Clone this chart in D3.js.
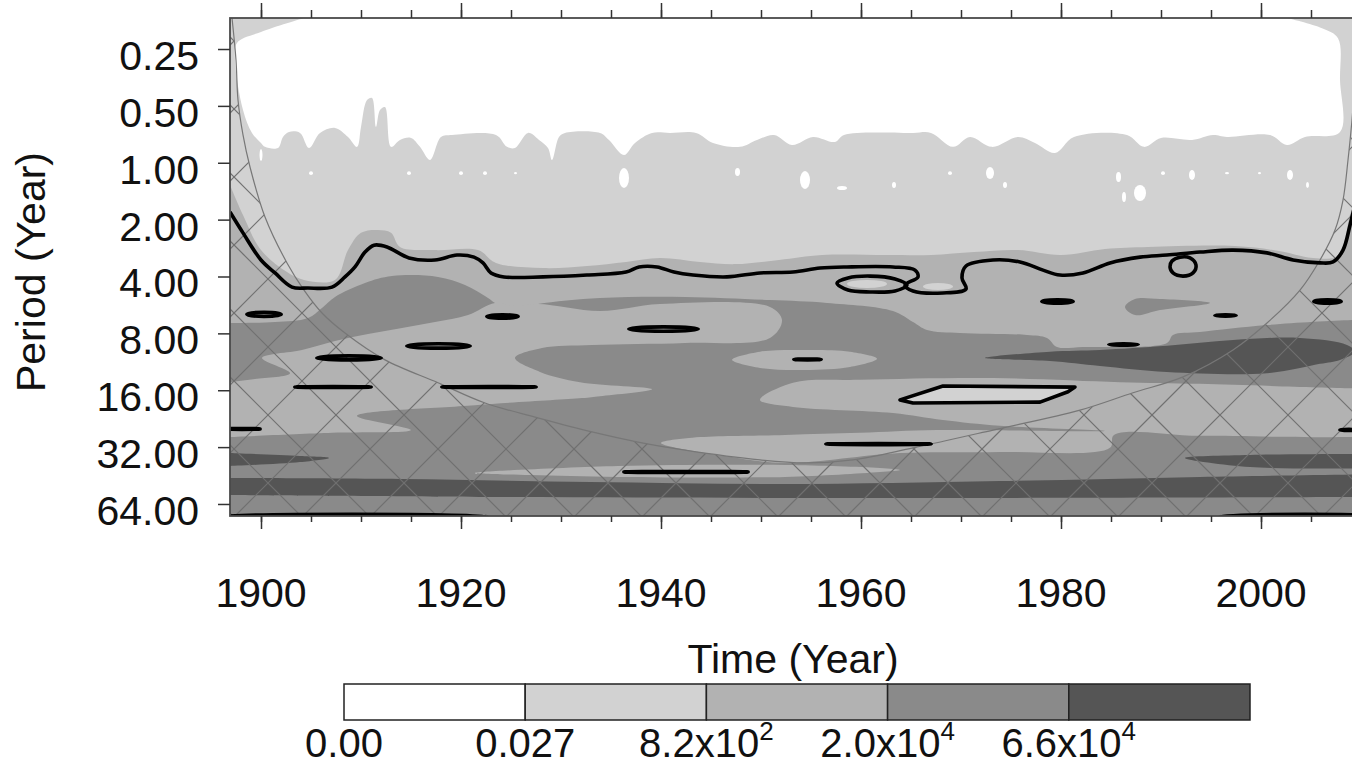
<!DOCTYPE html>
<html>
<head>
<meta charset="utf-8">
<script src="https://cdn.jsdelivr.net/npm/d3@7"></script>
<style>
  body { margin: 0; background: #fff; }
  svg { display: block; font-family: "Liberation Sans", Arial, Helvetica, sans-serif; }
</style>
</head>
<body>
<svg id="chart" width="1352" height="767"></svg>
<script>
// axis limits and labels
var yearRange = [1896.9, 2011.9];
var periodRange = [0.1713, 74.1];
var periodTicks = [0.25, 0.5, 1, 2, 4, 8, 16, 32, 64];
var yearLabels = [1900, 1920, 1940, 1960, 1980, 2000];
var levelColors = ["#ffffff", "#d2d2d2", "#b2b2b2", "#8a8a8a", "#555555"];
var levelLabels = [["0.00", ""], ["0.027", ""], ["8.2x10", "2"], ["2.0x10", "4"], ["6.6x10", "4"]];

// filled power zones, [year, period]
var lightZone = [[1896.9,0.1713],[2011.9,0.1713],[2011.9,1.234],[2009.1,1.78],[2007.9,3.08],[2005.2,3.19],[2001.8,2.93],[1997.4,2.76],[1988.7,2.79],[1984.4,2.86],[1980.0,3.08],[1975.7,2.90],[1971.3,2.97],[1967.0,3.08],[1962.6,3.08],[1956.1,3.08],[1951.8,3.27],[1947.4,3.44],[1943.9,3.35],[1939.9,3.19],[1936.5,3.35],[1932.6,3.52],[1928.2,3.61],[1923.5,3.39],[1921.7,2.90],[1917.4,2.90],[1913.9,2.79],[1913.0,2.35],[1911.7,2.27],[1910.0,2.35],[1908.7,2.90],[1907.4,4.17],[1904.3,4.17],[1902.6,3.79],[1900.0,2.90],[1898.2,1.89],[1896.9,1.31]];

var whiteZone = [[1904.3,0.1713],[2002.6,0.1713],[2006.1,0.194],[2007.7,0.219],[2007.9,0.365],[2007.9,0.687],
  [2004.4,0.730],[2002.6,0.805],[2000.9,0.713],[1996.6,0.730],[1995.2,0.713],[1993.1,0.757],[1990.0,0.739],[1988.3,0.824],[1986.6,0.713],[1981.3,0.730],[1979.4,0.887],[1977.4,0.785],[1975.7,0.730],[1973.1,0.824],[1970.9,0.730],[1969.2,0.824],[1967.0,0.695],[1965.2,0.695],[1958.3,0.713],[1957.4,0.776],[1955.2,0.730],[1953.1,0.805],[1951.3,0.713],[1949.6,0.757],[1947.9,0.824],[1945.2,0.785],[1943.5,0.695],[1940.9,0.695],[1939.1,0.695],[1937.4,0.785],[1936.3,0.909],[1934.8,0.757],[1933.9,0.695],[1930.4,0.695],[1929.8,0.730],[1929.1,0.967],[1928.7,0.835],[1927.8,0.757],[1926.7,0.695],[1925.4,0.835],[1924.6,0.824],[1923.5,0.713],[1919.1,0.713],[1918.0,0.730],[1916.9,0.967],[1915.9,0.824],[1915.0,0.739],[1913.9,0.757],[1913.0,0.824],[1912.4,0.507],[1911.9,0.525],[1911.5,0.646],[1911.1,0.454],[1910.6,0.466],[1910.0,0.646],[1909.6,0.824],[1908.7,0.730],[1907.4,0.654],[1905.9,0.695],[1904.8,0.835],[1903.9,0.695],[1902.8,0.687],[1902.2,0.730],[1901.7,0.835],[1900.4,0.824],[1900.0,0.785],
  [1899.1,0.695],[1898.2,0.525],[1897.4,0.286],[1897.6,0.232],[1900.0,0.203]];

// [yearStart, yearEnd, periodLow, periodHigh]
var whiteSpecks = [[1904.8,1905.2,1.11,1.16],[1914.6,1915.0,1.11,1.16],[1919.8,1920.2,1.11,1.16],[1922.2,1922.6,1.11,1.16],[1925.3,1925.6,1.12,1.15],[1935.8,1936.8,1.066,1.36],[1899.85,1900.15,0.845,0.978],[1947.4,1947.9,1.066,1.175],[1953.9,1954.9,1.106,1.377],[1957.6,1958.6,1.327,1.394],[1963.1,1963.5,1.265,1.36],[1968.7,1969.1,1.11,1.16],[1972.5,1973.3,1.053,1.219],[1974.2,1974.6,1.265,1.36],[1985.5,1986.0,1.119,1.265],[1986.1,1986.5,1.428,1.613],[1987.3,1988.5,1.311,1.594],[1990.0,1990.4,1.11,1.16],[1992.8,1993.4,1.092,1.234],[1996.4,1996.8,1.12,1.15],[1999.7,2000.0,1.12,1.15],[2002.6,2003.2,1.092,1.234],[2004.5,2004.8,1.265,1.36]];

var midBand = [[1896.9,7.05],[1901.4,6.97],[1904.7,6.63],[1906.1,5.87],[1907.4,5.13],[1910.4,4.33],[1913.1,3.98],[1917.7,4.02],[1920.4,4.44],[1922.7,5.20],[1923.4,5.52],[1925.4,5.94],[1927.7,5.59],[1933.9,5.20],[1942.4,5.13],[1950.9,5.33],[1956.6,5.52],[1963.2,6.09],[1965.2,6.97],[1966.6,7.68],[1969.9,7.97],[1976.6,8.16],[1978.6,8.46],[1979.6,9.44],[1982.2,9.44],[1990.6,8.99],[1991.2,8.16],[1993.9,7.87],[2000.6,7.23],[2009.1,6.80],[2011.9,6.80],[2011.9,74.1],[1896.9,74.1]];
var midWedge = [[1986.4,5.80],[1987.4,5.26],[1989.9,5.26],[1994.9,5.52],[1989.9,6.02],[1987.4,6.40]];

var lowLeft = [[1896.9,14.5],[1899.4,13.95],[1902.9,13.0],[1900.1,10.8],[1904.1,9.79],[1907.4,8.78],[1910.7,8.06],[1914.1,7.49],[1917.4,6.97],[1920.7,6.40],[1923.4,5.52],[1925.4,5.73],[1927.7,5.59],[1933.9,6.09],[1939.9,5.59],[1950.9,5.80],[1952.1,6.80],[1950.9,8.46],[1942.4,8.99],[1933.1,9.21],[1928.1,9.56],[1925.4,10.8],[1927.9,12.8],[1931.9,14.5],[1939.1,15.8],[1933.9,17.2],[1932.1,17.6],[1921.4,19.2],[1909.6,21.9],[1915.0,26.0],[1907.1,26.9],[1896.9,28.3]];
var lowBlob = [[1947.1,11.05],[1949.9,10.0],[1954.4,9.79],[1958.9,10.0],[1961.6,10.9],[1958.9,12.05],[1954.4,12.5],[1949.9,12.2]];
var lowRight = [[2011.9,15.6],[2011.9,27.9],[2009.1,28.3],[1993.9,27.9],[1985.3,27.6],[1984.9,32.3],[1973.9,34.0],[1963.9,34.4],[1952.4,38.8],[1946.4,35.7],[1940.0,30.4],[1942.8,28.6],[1952.4,27.6],[1959.9,26.9],[1967.6,26.0],[1984.4,26.3],[1973.9,24.7],[1968.2,23.0],[1963.2,21.1],[1953.2,19.6],[1949.9,18.0],[1953.2,14.6],[1959.9,14.1],[1973.2,13.8],[1985.9,14.5],[1993.9,14.8],[2009.1,15.6]];
var lowStreak = [[1921.4,43.9],[1935.7,40.3],[1952.4,39.8],[1961.9,41.3],[1963.9,42.3],[1961.9,43.3],[1952.4,46.0],[1935.7,46.0],[1926.9,45.0]];

var darkBand = [[1896.9,46.6],[1913.9,47.2],[1932.9,49.0],[1952.4,50.2],[1973.9,48.4],[1993.9,46.0],[2011.9,44.4],[2011.9,58.8],[1973.9,59.5],[1952.4,59.5],[1923.9,58.8],[1896.9,57.4]];
var darkLeft = [[1896.9,34.4],[1903.9,35.7],[1906.8,36.5],[1903.9,38.4],[1896.9,40.3]];
var darkRight = [[2011.9,41.3],[1998.9,40.8],[1992.4,36.5],[1998.9,35.2],[2011.9,34.8]];
var darkUpper = [[1972.4,10.8],[1978.9,10.0],[1983.9,9.79],[1990.6,9.3],[1997.2,8.67],[2003.9,8.46],[2008.6,9.21],[2009.4,10.0],[2007.9,11.06],[2005.9,11.6],[2000.6,13.0],[1990.6,12.8],[1983.9,11.9],[1978.9,11.2]];
var lightIslands = [[1958.6,1962.6,4.17,4.60],[1966.2,1969.2,4.33,4.72]];

// cone of influence
var coi = [[1897.1,0.1713],[1897.5,0.286],[1897.7,0.465],[1898.2,0.712],[1898.9,1.053],[1900.4,1.937],[1902.6,3.39],[1904.3,4.72],[1906.1,6.24],[1908.4,7.97],[1912.4,11.05],[1917.7,14.6],[1922.4,18.7],[1927.7,22.4],[1933.1,26.6],[1937.7,30.1],[1942.4,33.2],[1949.9,37.4],[1954.4,38.8],[1959.2,37.4],[1965.2,32.3],[1973.2,26.0],[1981.9,20.4],[1987.2,16.5],[1992.2,13.6],[1997.2,9.79],[2000.6,7.05],[2003.9,4.72],[2005.9,3.27],[2007.4,2.27],[2008.2,1.575],[2008.7,0.967],[2009.1,0.594],[2009.5,0.323],[2009.9,0.1713]];

// significance contours
var sigMain = [[1896.9,1.822],[1898.2,2.35],[1900.0,3.27],[1901.4,3.83],[1903.1,4.55],[1904.7,4.60],[1907.1,4.55],[1908.4,4.02],[1909.4,3.56],[1910.4,2.97],[1911.3,2.73],[1912.6,2.79],[1914.8,3.19],[1917.4,3.27],[1919.6,3.08],[1921.3,3.16],[1922.2,3.39],[1923.0,3.83],[1924.3,4.02],[1928.2,4.02],[1932.6,3.93],[1936.5,3.79],[1937.8,3.56],[1939.6,3.56],[1941.3,3.79],[1943.2,3.93],[1946.6,4.02],[1949.9,3.83],[1953.2,3.79],[1955.9,3.61],[1958.6,3.56],[1963.2,3.56],[1965.4,3.70],[1965.7,4.02],[1964.4,4.44],[1965.2,4.77],[1968.2,4.89],[1970.5,4.66],[1970.1,4.07],[1970.5,3.52],[1973.2,3.27],[1975.9,3.35],[1978.2,3.70],[1979.9,3.93],[1982.2,3.83],[1984.9,3.39],[1987.9,3.16],[1990.6,3.08],[1993.9,2.97],[1997.2,2.90],[2000.6,3.00],[2003.2,3.27],[2005.9,3.39],[2007.2,3.35],[2008.2,2.90],[2008.9,2.14],[2009.5,1.575]];
var sigLoopA = [[1957.6,4.33],[1958.7,4.07],[1960.9,3.98],[1963.4,4.12],[1964.6,4.44],[1963.4,4.77],[1960.9,4.83],[1958.7,4.72]];
var sigLoopB = [[1990.9,3.56],[1991.1,3.31],[1991.9,3.16],[1992.9,3.19],[1993.5,3.48],[1993.2,3.83],[1992.2,3.98],[1991.2,3.83]];
var sigBox = [[1963.9,18.0],[1968.2,15.2],[1981.4,15.4],[1980.7,16.3],[1977.9,18.5],[1965.2,18.7]];
var sigRings = [[1898.4,1902.2,6.05,6.65],[1922.4,1925.9,6.24,6.80],[1936.6,1943.9,7.23,7.97],[1914.4,1921.1,8.88,9.79],[1905.4,1912.2,10.3,11.3],[1903.2,1911.2,15.0,15.8],[1917.9,1927.7,15.0,15.8],[1896.1,1900.1,25.0,26.3],[1936.1,1948.9,42.3,44.4],[1956.3,1967.2,30.1,31.6],[1953.1,1956.2,10.7,11.3],[1977.9,1981.4,5.20,5.66],[1995.2,1997.7,6.24,6.63],[1984.6,1987.9,8.88,9.44],[2005.1,2008.2,5.20,5.66],[2007.7,2009.9,25.3,26.6],[1895.5,1922.8,71.0,78.0],[1995.7,2013.0,71.0,78.0]];

var svg = d3.select("#chart");
var plot = {left: 230, right: 1380, top: 18, bottom: 516};

var x = d3.scaleLinear().domain(yearRange).range([plot.left, plot.right]);
var y = d3.scaleLog().base(2).domain(periodRange).range([plot.top, plot.bottom]);

var smooth = d3.line().curve(d3.curveCatmullRom.alpha(0.5));
var smoothClosed = d3.line().curve(d3.curveCatmullRomClosed.alpha(0.5));

function px(p) { return [x(p[0]), y(p[1])]; }

function onEdge(p) {
   return p[0] <= yearRange[0] + 0.01 || p[0] >= yearRange[1] - 0.01 ||
      p[1] <= periodRange[0] * 1.001 || p[1] >= periodRange[1] * 0.999;
}

// zones touching the frame run straight along it, curved elsewhere
function zonePath(pts) {
   if (!pts.some(onEdge)) return smoothClosed(pts.map(px));
   var all = pts.concat([pts[0]]);
   var runs = [[all[0]]];
   for (var i = 1; i < all.length; i++) {
      if (onEdge(all[i - 1]) && onEdge(all[i])) runs.push([all[i]]);
      else runs[runs.length - 1].push(all[i]);
   }
   return runs.map(function(r, i) {
      var d = r.length > 1 ? smooth(r.map(px)) : "M" + px(r[0]).join(",");
      return i ? d.replace(/^M/, "L") : d;
   }).join("") + "Z";
}

function boxEllipse(sel, b, sw) {
   var x0 = x(b[0]), x1 = x(b[1]), y0 = y(b[2]), y1 = y(b[3]);
   sel.append("ellipse")
      .attr("cx", (x0 + x1) / 2).attr("cy", (y0 + y1) / 2)
      .attr("rx", Math.max(0.5, (x1 - x0 - sw) / 2))
      .attr("ry", Math.max(0.5, (y1 - y0 - sw) / 2));
}

var defs = svg.append("defs");
defs.append("clipPath").attr("id", "plotClip").append("rect")
   .attr("x", plot.left).attr("y", plot.top)
   .attr("width", plot.right - plot.left).attr("height", plot.bottom - plot.top);

var coiLine = smooth(coi.map(px));
defs.append("clipPath").attr("id", "coiClip").append("path")
   .attr("d", "M" + plot.left + "," + plot.top + coiLine.replace(/^M/, "L") +
      "L" + plot.right + "," + plot.top + "L" + plot.right + "," + plot.bottom +
      "L" + plot.left + "," + plot.bottom + "Z");

var g = svg.append("g").attr("clip-path", "url(#plotClip)");

g.append("rect")
   .attr("x", plot.left).attr("y", plot.top)
   .attr("width", plot.right - plot.left).attr("height", plot.bottom - plot.top)
   .attr("fill", levelColors[2]);

function zone(pts, color) {
   g.append("path").attr("d", zonePath(pts)).attr("fill", color);
}

zone(lightZone, levelColors[1]);
zone(whiteZone, levelColors[0]);
var specks = g.append("g").attr("fill", levelColors[0]);
whiteSpecks.forEach(function(b) { boxEllipse(specks, b, 0); });

zone(midBand, levelColors[3]);
zone(midWedge, levelColors[3]);

zone(lowLeft, levelColors[2]);
zone(lowBlob, levelColors[2]);
zone(lowRight, levelColors[2]);
zone(lowStreak, levelColors[2]);

zone(darkBand, levelColors[4]);
zone(darkLeft, levelColors[4]);
zone(darkRight, levelColors[4]);
zone(darkUpper, levelColors[4]);

g.append("path").attr("d", d3.line()(sigBox.map(px)) + "Z").attr("fill", levelColors[1]);
var isl = g.append("g").attr("fill", levelColors[1]);
lightIslands.forEach(function(b) { boxEllipse(isl, b, 0); });

// hatching outside the cone of influence
var hatch = g.append("g").attr("clip-path", "url(#coiClip)")
   .attr("stroke", "#707070").attr("stroke-width", 1.2);
d3.range(-19, 6).forEach(function(k) {
   var c = 68 * k - 57;
   hatch.append("line").attr("x1", plot.left).attr("y1", plot.left + c)
      .attr("x2", plot.right).attr("y2", plot.right + c);
});
d3.range(3, 27).forEach(function(m) {
   var s = 68 * m + 71;
   hatch.append("line").attr("x1", plot.left).attr("y1", s - plot.left)
      .attr("x2", plot.right).attr("y2", s - plot.right);
});

g.append("path").attr("d", coiLine).attr("fill", "none")
   .attr("stroke", "#777").attr("stroke-width", 1.2);

var sig = g.append("g").attr("fill", "none").attr("stroke", "#000")
   .attr("stroke-width", 3.6).attr("stroke-linejoin", "round");
sig.append("path").attr("d", smooth(sigMain.map(px)));
sig.append("path").attr("d", smoothClosed(sigLoopA.map(px)));
sig.append("path").attr("d", smoothClosed(sigLoopB.map(px)));
sig.append("path").attr("d", d3.line()(sigBox.map(px)) + "Z");
sigRings.forEach(function(b) { boxEllipse(sig, b, 3.6); });

// frame
svg.append("rect")
   .attr("x", plot.left).attr("y", plot.top)
   .attr("width", plot.right - plot.left).attr("height", plot.bottom - plot.top)
   .attr("fill", "none").attr("stroke", "#4a4a4a").attr("stroke-width", 1.8);

function ticks(axis, transform) {
   var a = svg.append("g").attr("transform", transform).attr("color", "#333").call(axis);
   a.select(".domain").remove();
   a.selectAll(".tick line").attr("stroke-width", 1.5);
}
var minorYears = d3.range(1900, 2011, 5);
var majorYears = d3.range(1900, 2011, 20);
ticks(d3.axisBottom(x).tickValues(minorYears).tickSize(6).tickFormat(""), "translate(0," + plot.bottom + ")");
ticks(d3.axisBottom(x).tickValues(majorYears).tickSize(13).tickFormat(""), "translate(0," + plot.bottom + ")");
ticks(d3.axisTop(x).tickValues(minorYears).tickSize(8).tickFormat(""), "translate(0," + plot.top + ")");
ticks(d3.axisTop(x).tickValues(majorYears).tickSize(15).tickFormat(""), "translate(0," + plot.top + ")");
ticks(d3.axisLeft(y).tickValues(periodTicks).tickSize(12).tickFormat(""), "translate(" + plot.left + ",0)");

var fmt = d3.format(".2f");
svg.append("g").selectAll("text").data(periodTicks).enter().append("text")
   .attr("x", 199).attr("y", function(d) { return y(d) + 21; })
   .attr("text-anchor", "end").attr("font-size", 41).attr("fill", "#111")
   .text(function(d) { return fmt(d); });

svg.append("g").selectAll("text").data(yearLabels).enter().append("text")
   .attr("x", function(d) { return x(d); }).attr("y", 607)
   .attr("text-anchor", "middle").attr("font-size", 41).attr("fill", "#111")
   .text(function(d) { return d; });

svg.append("text").attr("x", 793).attr("y", 673)
   .attr("text-anchor", "middle").attr("font-size", 41).attr("fill", "#111")
   .text("Time (Year)");

svg.append("text").attr("transform", "translate(45,272) rotate(-90)")
   .attr("text-anchor", "middle").attr("font-size", 41).attr("fill", "#111")
   .text("Period (Year)");

// legend bar
var leg = {left: 344, top: 684, w: 181.2, h: 36};
var lg = svg.append("g");
levelColors.forEach(function(c, i) {
   lg.append("rect")
      .attr("x", leg.left + i * leg.w).attr("y", leg.top)
      .attr("width", leg.w).attr("height", leg.h)
      .attr("fill", c).attr("stroke", "#222").attr("stroke-width", 1.5);
});
levelLabels.forEach(function(l, i) {
   var t = lg.append("text")
      .attr("x", leg.left + i * leg.w).attr("y", 757)
      .attr("text-anchor", "middle").attr("font-size", 40).attr("fill", "#111");
   t.append("tspan").text(l[0]);
   if (l[1]) t.append("tspan").attr("font-size", 26).attr("dy", -17).text(l[1]);
});
</script>
</body>
</html>
